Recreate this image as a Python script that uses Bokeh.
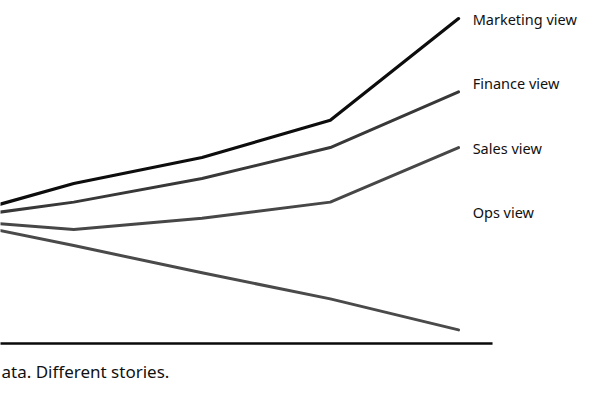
from bokeh.plotting import figure
from bokeh.models import Range1d, Label
from bokeh.core.properties import value
from bokeh.embed import file_html
from bokeh.resources import INLINE

# ---- data ----
periods = [0, 1, 2, 3, 4]
marketing = [100, 129, 150, 180, 262]
finance = [100, 114, 133, 158, 203]
sales = [100, 92, 101, 114, 158]
ops = [100, 79, 57, 36, 11]

series_names = ["Marketing view", "Finance view", "Sales view", "Ops view"]
label_y = [262, 210, 158, 106]
caption = "ata. Different stories."

# ---- figure ----
p = figure(width=584, height=384, output_backend="svg", toolbar_location=None,
           x_range=Range1d(0.4288, 4.982), y_range=Range1d(-33.06, 276.6),
           min_border=0, outline_line_color=None)
p.xaxis.visible = False
p.yaxis.visible = False
p.grid.visible = False
p.background_fill_color = "white"
p.border_fill_color = "white"

# baseline
axis_end = 4.265
p.segment(x0=[periods[0]], y0=[0], x1=[axis_end], y1=[0],
          line_color="#0a0a0a", line_width=2.6)

colors = ["#0d0d0d", "#383838", "#474747", "#4a4a4a"]
widths = [3.2, 3.0, 3.0, 3.0]
for ys, c, w in zip([marketing, finance, sales, ops], colors, widths):
    p.line(periods, ys, line_color=c, line_width=w, line_join="round", line_cap="round")

label_x = 4.11
p.text(x=[label_x] * 4, y=label_y, text=series_names,
       text_font=value("Noto Sans"), text_font_size="14.5px",
       text_color="#111111", text_baseline="middle", text_align="left")

p.add_layout(Label(x=1, y=-31.6, x_units="screen", y_units="data", text=caption,
                   text_font="Noto Sans", text_font_size="17px", text_color="#111111",
                   text_baseline="bottom", text_align="left"))

open("out.html", "w").write(file_html(p, INLINE))
